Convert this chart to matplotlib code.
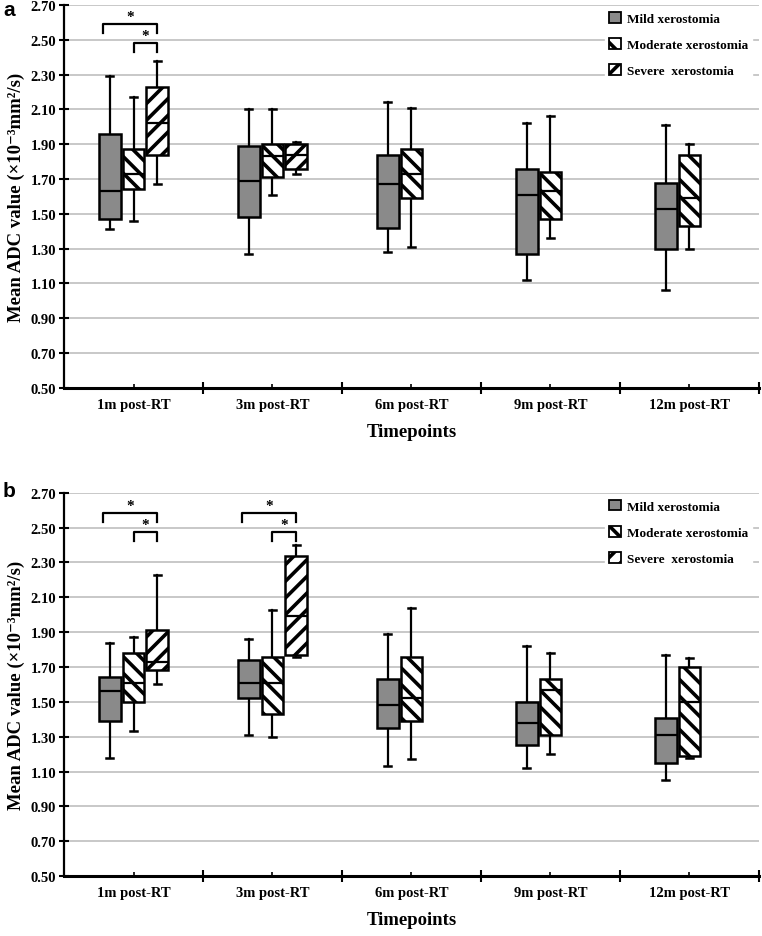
import numpy as np
import matplotlib
matplotlib.use('Agg')
import matplotlib.pyplot as plt
from matplotlib.patches import Patch

####################
## Data          ##
####################
timepoints = ['1m post-RT', '3m post-RT', '6m post-RT', '9m post-RT', '12m post-RT']
groups = ['Mild xerostomia', 'Moderate xerostomia', 'Severe  xerostomia']

## each row: [whisker low, Q1, median, Q3, whisker high]; None = no box
a_mild = [[1.41, 1.47, 1.63, 1.96, 2.29], [1.27, 1.48, 1.69, 1.89, 2.10],
          [1.28, 1.42, 1.67, 1.84, 2.14], [1.12, 1.27, 1.61, 1.76, 2.02],
          [1.06, 1.30, 1.53, 1.68, 2.01]]
a_moderate = [[1.46, 1.64, 1.73, 1.87, 2.17], [1.61, 1.71, 1.83, 1.90, 2.10],
              [1.31, 1.59, 1.73, 1.87, 2.11], [1.36, 1.47, 1.63, 1.74, 2.06],
              [1.30, 1.43, 1.59, 1.84, 1.90]]
a_severe = [[1.67, 1.84, 2.02, 2.23, 2.38], [1.73, 1.76, 1.84, 1.90, 1.91],
            None, None, None]

b_mild = [[1.18, 1.39, 1.56, 1.64, 1.84], [1.31, 1.52, 1.61, 1.74, 1.86],
          [1.13, 1.35, 1.48, 1.63, 1.89], [1.12, 1.25, 1.38, 1.50, 1.82],
          [1.05, 1.15, 1.31, 1.41, 1.77]]
b_moderate = [[1.33, 1.50, 1.61, 1.78, 1.87], [1.30, 1.43, 1.61, 1.76, 2.03],
              [1.17, 1.39, 1.52, 1.76, 2.04], [1.20, 1.31, 1.57, 1.63, 1.78],
              [1.18, 1.19, 1.50, 1.70, 1.75]]
b_severe = [[1.60, 1.68, 1.73, 1.91, 2.23], [1.76, 1.77, 1.99, 2.34, 2.40],
            None, None, None]

## significance brackets: (timepoint index, from group, to group, bar height)
a_sig = [(0, 0, 2, 2.59), (0, 1, 2, 2.48)]
b_sig = [(0, 0, 2, 2.585), (0, 1, 2, 2.475), (1, 0, 2, 2.585), (1, 1, 2, 2.475)]

yticks = [0.50, 0.70, 0.90, 1.10, 1.30, 1.50, 1.70, 1.90, 2.10, 2.30, 2.50, 2.70]

####################
## Style          ##
####################
plt.rcParams['font.family'] = ['Liberation Serif', 'DejaVu Serif']
plt.rcParams['font.weight'] = 'bold'
plt.rcParams['hatch.linewidth'] = 2.6
plt.rcParams['hatch.color'] = 'black'

offsets = [-0.17, 0.0, 0.17]
box_w = 0.155
fills = ['#8a8a8a', 'white', 'white']
hatches = [None, '\\\\', '//']


def draw_panel(ax, data, sig):
	for g, series in enumerate(data):
		for t, row in enumerate(series):
			if row is None:
				continue
			st = dict(whislo=row[0], q1=row[1], med=row[2], q3=row[3], whishi=row[4], fliers=[])
			res = ax.bxp([st], positions=[t + 1 + offsets[g]], widths=box_w,
			             patch_artist=True, showfliers=False, capwidths=0.05,
			             boxprops=dict(facecolor=fills[g], edgecolor='black', linewidth=1.8, hatch=hatches[g]),
			             medianprops=dict(color='black', linewidth=1.6),
			             whiskerprops=dict(color='black', linewidth=1.6),
			             capprops=dict(color='black', linewidth=1.8),
			             manage_ticks=False)
			for b in res['boxes']:
				b.set_zorder(3)
			for m in res['medians']:
				m.set_zorder(4)

	## brackets
	for t, g0, g1, h in sig:
		x0 = t + 1 + offsets[g0] - (0.05 if g0 == 0 else 0.0)
		x1 = t + 1 + offsets[g1]
		ax.plot([x0, x0, x1, x1], [h - 0.05, h, h, h - 0.05], color='black', lw=1.6, zorder=4)
		ax.text((x0 + x1) / 2, h + 0.005, '*', ha='center', va='bottom', fontsize=11, fontweight='bold')

	ax.set_xlim(0.5, 5.5)
	ax.set_ylim(0.5, 2.7)
	ax.set_yticks(yticks)
	ax.set_yticklabels(['%.2f' % v for v in yticks], fontsize=10.5)
	ax.set_xticks([1.5, 2.5, 3.5, 4.5, 5.5])
	ax.set_xticklabels([])
	ax.set_xticks([1, 2, 3, 4, 5], minor=True)
	ax.set_xticklabels(timepoints, minor=True, fontsize=10.5)
	ax.tick_params(axis='x', which='major', direction='inout', length=8, width=1.5)
	ax.tick_params(axis='x', which='minor', direction='in', length=3, width=1.2, pad=7)
	ax.tick_params(axis='y', direction='inout', length=7, width=1.5, pad=2)
	ax.grid(axis='y', color='#c4c4c4', lw=1.3, zorder=0)
	ax.set_axisbelow(True)
	for s in ['top', 'right']:
		ax.spines[s].set_visible(False)
	ax.spines['left'].set_linewidth(1.6)
	ax.spines['bottom'].set_linewidth(2.2)

	ax.set_xlabel('Timepoints', fontsize=13.5, fontweight='bold', labelpad=9)
	ax.set_ylabel('Mean ADC value (\u00d710\u207b\u00b3mm\u00b2/s)', fontsize=13.5, fontweight='bold', labelpad=4)

	handles = [Patch(facecolor=fills[i], edgecolor='black', hatch=hatches[i], linewidth=1.3) for i in range(3)]
	leg = ax.legend(handles, groups, loc='upper right', bbox_to_anchor=(1.0, 1.01), frameon=True,
	                fontsize=9.5, handlelength=0.9, handleheight=0.9, handletextpad=0.5,
	                labelspacing=1.0, borderpad=0.3, fancybox=False)
	leg.get_frame().set_edgecolor('white')
	leg.get_frame().set_facecolor('white')
	leg.get_frame().set_alpha(1.0)
	leg.set_zorder(5)


fig = plt.figure(figsize=(7.62, 9.37), dpi=100)
ax_a = fig.add_axes([0.084, 0.585, 0.912, 0.4086])
ax_b = fig.add_axes([0.084, 0.064, 0.912, 0.409])

draw_panel(ax_a, [a_mild, a_moderate, a_severe], a_sig)
draw_panel(ax_b, [b_mild, b_moderate, b_severe], b_sig)

## panel letters
fig.text(0.004, 0.999, 'a', fontsize=15, fontweight='bold', family='Liberation Sans', ha='left', va='top')
fig.text(0.004, 0.486, 'b', fontsize=15, fontweight='bold', family='Liberation Sans', ha='left', va='top')

fig.savefig('out.png', dpi=100)
